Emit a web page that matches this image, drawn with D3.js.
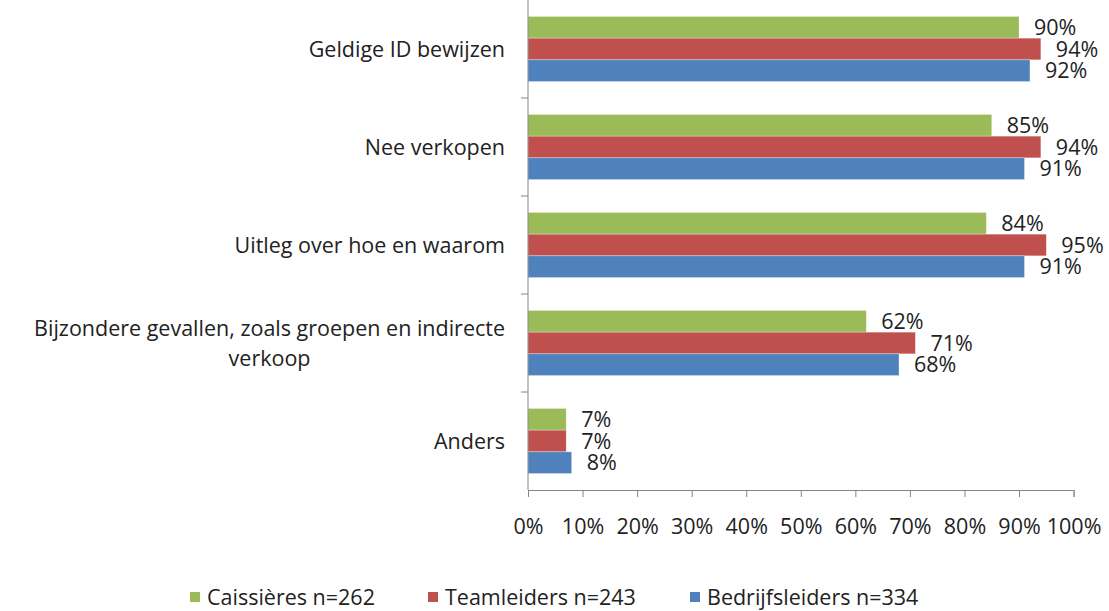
<!DOCTYPE html>
<html>
<head>
<meta charset="utf-8">
<script src="https://cdn.jsdelivr.net/npm/d3@7"></script>
<style>
  html, body { margin: 0; padding: 0; background: #fff; }
  svg text { font-family: "Open Sans", "Noto Sans", sans-serif; fill: #222; }
</style>
</head>
<body>
<svg id="chart" width="1109" height="611"></svg>
<script>
/* data */
const categories = [
  ["Geldige ID bewijzen"],
  ["Nee verkopen"],
  ["Uitleg over hoe en waarom"],
  ["Bijzondere gevallen, zoals groepen en indirecte", "verkoop"],
  ["Anders"]
];
const seriesNames = ["Caissières n=262", "Teamleiders n=243", "Bedrijfsleiders n=334"];
const seriesColors = ["#9BBB59", "#C0504D", "#4F81BD"];
const caissieres = [90, 85, 84, 62, 7];
const teamleiders = [94, 94, 95, 71, 7];
const bedrijfsleiders = [92, 91, 91, 68, 8];
const xTicks = [0, 10, 20, 30, 40, 50, 60, 70, 80, 90, 100];

const seriesValues = [caissieres, teamleiders, bedrijfsleiders];
const catKeys = categories.map(c => c.join(" "));

const svg = d3.select("#chart");
const plot = { left: 528, top: 0, width: 545.6, height: 490 };
const fontSize = 21.5;

const x = d3.scaleLinear().domain([0, 100]).range([plot.left, plot.left + plot.width]);
const y = d3.scaleBand().domain(catKeys).range([plot.top, plot.top + plot.height])
  .paddingInner(0.336).paddingOuter(0.168);
const ySub = d3.scaleBand().domain(seriesNames).range([0, y.bandwidth()]);

/* bars */
const rows = [];
catKeys.forEach((k, i) => {
  seriesNames.forEach((s, j) => rows.push({ cat: k, series: s, j, value: seriesValues[j][i] }));
});

svg.append("g").selectAll("rect")
  .data(rows)
  .enter()
  .append("rect")
  .attr("x", x(0))
  .attr("y", d => y(d.cat) + ySub(d.series))
  .attr("width", d => x(d.value) - x(0))
  .attr("height", ySub.bandwidth())
  .attr("fill", d => seriesColors[d.j])
  .attr("stroke", "#fff")
  .attr("stroke-opacity", 0.5)
  .attr("stroke-width", 0.6);

/* value labels */
svg.append("g").selectAll("text")
  .data(rows)
  .enter()
  .append("text")
  .attr("x", d => x(d.value) + 15)
  .attr("y", d => y(d.cat) + ySub(d.series) + ySub.bandwidth() / 2)
  .attr("dy", "0.35em")
  .style("font-size", fontSize + "px")
  .text(d => d.value + "%");

/* x axis */
const xAxis = d3.axisBottom(x).tickValues(xTicks).tickFormat(d => d + "%").tickSize(7).tickPadding(22);
const gx = svg.append("g").attr("transform", `translate(0,${plot.top + plot.height})`).call(xAxis);
gx.select(".domain").attr("stroke", "#868686");
gx.selectAll(".tick line").attr("stroke", "#868686");
gx.selectAll(".tick text").style("font-size", fontSize + "px").style("font-family", "'Open Sans', sans-serif").attr("fill", "#222");

/* y axis: line with ticks at band boundaries */
const yBounds = d3.range(catKeys.length + 1).map(i => plot.top + i * y.step());
svg.append("line")
  .attr("x1", x(0)).attr("x2", x(0))
  .attr("y1", plot.top).attr("y2", plot.top + plot.height)
  .attr("stroke", "#868686");
svg.append("g").selectAll("line")
  .data(yBounds.slice(1, -1))
  .enter()
  .append("line")
  .attr("x1", x(0) - 7).attr("x2", x(0))
  .attr("y1", d => d).attr("y2", d => d)
  .attr("stroke", "#868686");

/* category labels (block right aligned, lines centered) */
const labelRight = 505;
const lineH = 30;
categories.forEach((lines, i) => {
  const cy = y(catKeys[i]) + y.bandwidth() / 2;
  const g = svg.append("g");
  const texts = lines.map((ln, li) => g.append("text")
    .attr("y", cy + (li - (lines.length - 1) / 2) * lineH)
    .attr("dy", "0.35em")
    .attr("text-anchor", "middle")
    .style("font-size", fontSize + "px")
    .text(ln));
  const maxW = d3.max(texts, t => t.node().getComputedTextLength());
  texts.forEach(t => t.attr("x", labelRight - maxW / 2));
});

/* legend */
const legendX = [190, 428, 690];
const legend = svg.append("g").selectAll("g")
  .data(seriesNames)
  .enter()
  .append("g")
  .attr("transform", (d, i) => `translate(${legendX[i]},597)`);
legend.append("rect")
  .attr("x", 0).attr("y", -5)
  .attr("width", 10).attr("height", 10)
  .attr("fill", (d, i) => seriesColors[i]);
legend.append("text")
  .attr("x", 17).attr("y", 0)
  .attr("dy", "0.35em")
  .style("font-size", fontSize + "px")
  .text(d => d);
</script>
</body>
</html>
